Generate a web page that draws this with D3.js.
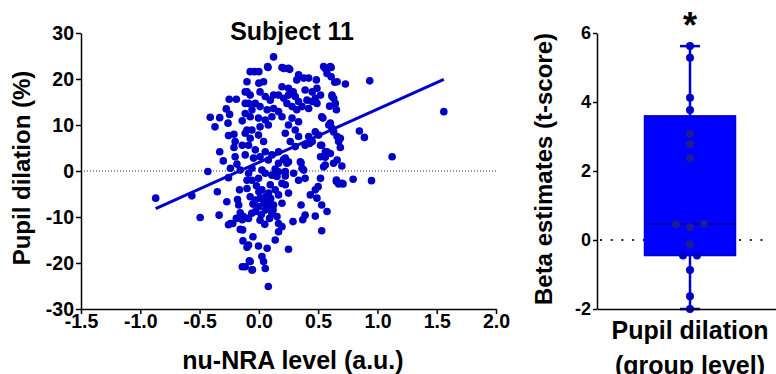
<!DOCTYPE html>
<html>
<head>
<meta charset="utf-8">
<script src="https://cdn.jsdelivr.net/npm/d3@7"></script>
<style>
  body { margin: 0; background: #fff; }
  svg { display: block; }
  text { font-family: "Liberation Sans", Arial, sans-serif; font-weight: bold; fill: #000; }
</style>
</head>
<body>
<svg id="chart" width="776" height="374"></svg>
<script>
// left panel: subject 11, pupil dilation vs nu-NRA level
const xTicks = [-1.5, -1.0, -0.5, 0, 0.5, 1.0, 1.5, 2.0];
const yTicks = [-30, -20, -10, 0, 10, 20, 30];

// [nu-NRA level, pupil dilation %]
const scatterPoints = [
  [-0.87,-5.9],[-0.565,-5.4],[-0.495,-10.1],[-0.35,-4.5],[-0.335,-9.6],[-0.43,-0.1],
  [-0.41,11.7],[-0.33,11.6],[-0.37,9.6],[-0.33,4.2],[-0.30,2.2],
  [-0.25,15.6],[-0.19,15.6],[-0.275,13.5],[-0.247,12.3],[-0.26,10.4],[-0.14,10.9],[-0.256,7.7],
  [-0.21,8.0],[-0.20,6.4],[-0.21,5.1],[-0.14,5.6],[-0.10,17.2],[-0.115,14.7],[-0.10,8.9],
  [-0.20,3.1],[-0.24,0.6],[-0.185,1.5],[-0.157,0.2],
  [-0.27,-6.7],[-0.256,-1.45],[-0.18,-6.2],[-0.17,-7.4],[-0.163,-4.1],[-0.157,-9.1],[-0.19,-10.3],
  [-0.24,-11.4],[-0.22,-11.4],[-0.256,-11.7],[-0.14,-10.6],[-0.13,-9.9],[-0.157,-12.7],[-0.134,-15.2],
  [-0.10,-16.6],[-0.08,-19.5],[-0.14,-20.8],[-0.053,-21.5],[-0.087,-0.5],[-0.1,-2.0],[-0.137,-12.8],
  [0.124,24.8],[-0.036,21.6],[0.0,21.6],[0.077,22.5],[0.195,22.5],[0.25,22.3],[0.56,22.3],[0.61,22.5],
  [0.64,19.3],[0.575,21.2],[0.61,20.5],[0.335,20.9],[0.378,20.2],[0.42,20.2],[0.485,19.8],[0.32,19.8],
  [-0.1,19.4],[0.0,19.1],[0.04,19.4],
  [0.195,18.3],[0.25,18.0],[0.29,17.2],[0.39,17.6],[0.45,17.2],[0.49,18.0],[0.52,16.5],
  [0.406,15.4],[0.45,15.1],[0.49,14.7],[0.364,14.0],[0.42,13.6],[0.476,15.8],
  [0.307,16.2],[0.335,15.1],[0.28,14.0],[0.32,13.3],
  [0.166,16.5],[0.21,15.8],[0.237,14.7],[0.25,16.5],
  [-0.115,17.2],[-0.073,16.5],[0.01,17.2],[0.054,16.2],[0.096,15.4],[0.124,16.5],
  [-0.087,14.7],[-0.03,14.7],[0.01,14.0],[-0.058,13.3],[0.07,13.3],[0.124,13.6],[0.166,12.9],
  [0.195,11.8],[0.28,11.5],[0.25,10.0],[0.335,10.7],
  [0.53,11.8],[0.59,10.0],[0.617,16.5],[0.631,15.8],
  [-0.115,12.5],[-0.073,11.8],[-0.003,11.5],[0.054,11.1],[0.11,11.8],[0.01,9.6],[0.08,10.0],
  [-0.058,8.9],[-0.115,8.2],[-0.073,7.1],[-0.003,7.8],[0.04,6.4],
  [0.223,8.2],[0.307,8.9],[0.335,7.5],
  [0.504,7.8],[0.603,10.4],[0.45,6.4],[0.53,5.6],
  [0.631,8.5],[0.66,7.5],[0.673,6.4],[0.42,7.5],
  [0.307,5.3],[0.39,5.6],[0.56,4.2],[0.66,2.4],
  [-0.087,5.6],[-0.03,4.6],[0.054,4.2],[0.11,3.5],[0.166,4.2],[0.223,2.8],
  [-0.115,3.5],[-0.045,2.8],[0.01,3.1],[0.08,2.4],[0.166,1.7],[0.25,2.0],
  [0.35,2.0],[0.364,0.6],[0.56,1.3],[0.63,1.7],
  [-0.058,0.6],[0.026,0.2],[0.138,0.4],[0.223,-0.1],
  [0.73,18.9],[0.935,19.6],[1.56,12.9],[0.848,8.7],[0.89,7.3],[1.124,3.1],[0.70,1.1],[0.687,7.1],
  [0.687,5.1],[0.71,-2.8],[0.795,-1.8],[0.95,-2.1],
  [0.66,19.4],[0.645,14.7],[0.617,16.2],[0.597,14.1],[0.654,13.3],[0.546,22.7],[0.603,22.7],
  [0.21,22.3],[0.26,22.1],[-0.073,21.6],[0.074,22.7],
  [0.54,11.5],[0.617,9.3],[0.52,5.6],[0.575,4.2],[0.603,3.8],[0.546,0.9],[0.476,8.5],[0.428,6.0],
  [0.356,1.8],[0.378,0.2],[0.265,6.4],[0.208,2.5],[0.237,1.7],[0.52,3.1],[0.56,3.0],[0.654,-2.3],[0.70,-2.7],
  [0.654,-1.96],[0.673,-2.8],[0.52,-1.6],[0.5,-3.4],[0.476,-4.1],[0.434,-5.2],[0.49,-5.9],[0.53,-7.4],
  [0.575,-8.8],[0.476,-9.8],[0.53,-13.0],[0.356,-7.4],[0.39,-9.6],[0.37,-10.6],[0.288,-11.0],[0.25,-17.0],
  [0.08,-25.1],[0.166,-13.2],[0.195,-12.1],[0.138,-15.0],
  [-0.05,-14.3],[-0.087,-16.1],[-0.003,-16.3],[0.07,-16.8],[0.026,-18.6],[0.04,-19.7],[0.054,-21.2],
  [-0.073,-19.7],[-0.058,-21.5],[-0.115,-20.8],
  [0.293,-0.5],[0.335,-2.0],[0.39,-1.6],[0.223,-1.1],[0.166,-0.15],[0.195,-2.7],[0.25,-4.8],[0.223,-3.0],
  [-0.058,-2.0],[-0.003,-1.6],[0.054,-0.5],[0.11,-0.9],[-0.073,-5.6],[-0.03,-6.3],[0.01,-5.9],[0.04,-7.0],
  [0.082,-6.7],[0.124,-7.4],[-0.003,-7.8],[0.054,-8.5],[0.11,-9.2],[0.153,-9.9],[0.166,-11.4],[-0.03,-8.8],
  [-0.087,-10.3],[0.01,-10.7],[0.082,-4.8],[0.138,-4.1],[0.166,-5.2],[0.195,-7.0],[0.026,-4.1],[0.096,-3.0],
  [0.153,-1.2],[-0.1,-3.8],
  [0.0,-4.5],[0.03,-6.0],[0.06,-5.5],[0.1,-6.0],[0.07,-8.0],[0.02,-9.5],[-0.05,-7.2],[0.12,-8.5],
  [-0.02,-3.2],[0.09,-10.3],[0.05,-11.6],[-0.06,-9.2]
];

// regression line
const fitSlope = 11.57;
const fitIntercept = 1.87;

// right panel: group-level beta estimates
const betaValues = [5.62, 5.28, 4.12, 3.77, 3.08, 2.78, 2.38, 0.455, 0.37, 0.47, -0.13, -0.45, -0.45, -0.87, -1.63, -2.0];
const betaTicks = [-2, 0, 2, 4, 6];

const blue = "#0000c8";
const svg = d3.select("#chart");

// ---------- left panel ----------
const x = d3.scaleLinear().domain([-1.5, 2]).range([81, 496]);
const y = d3.scaleLinear().domain([-30, 30]).range([309, 33]);

svg.append("line")
  .attr("x1", x(-1.5)).attr("x2", x(2))
  .attr("y1", y(0)).attr("y2", y(0))
  .attr("stroke", "#333").attr("stroke-width", 1)
  .attr("stroke-dasharray", "1,2");

svg.append("g").selectAll("circle")
  .data(scatterPoints)
  .join("circle")
  .attr("cx", d => x(d[0]))
  .attr("cy", d => y(d[1]))
  .attr("r", 3.8)
  .attr("fill", blue);

const xe = d3.extent(scatterPoints, d => d[0]);
svg.append("line")
  .attr("x1", x(xe[0])).attr("y1", y(fitIntercept + fitSlope * xe[0]))
  .attr("x2", x(xe[1])).attr("y2", y(fitIntercept + fitSlope * xe[1]))
  .attr("stroke", blue).attr("stroke-width", 3);

function styleAxis(g, size) {
  g.select(".domain").attr("stroke", "#000").attr("stroke-width", 1.5);
  g.selectAll(".tick line").attr("stroke", "#000").attr("stroke-width", 1.5);
  g.selectAll(".tick text").attr("font-size", size).attr("fill", "#000")
    .style("font-family", '"Liberation Sans", Arial, sans-serif').style("font-weight", "bold");
}

const gx = svg.append("g")
  .attr("transform", `translate(0,${y(-30)})`)
  .call(d3.axisBottom(x).tickValues(xTicks).tickFormat(d => d.toFixed(1))
    .tickSize(5).tickPadding(0).tickSizeOuter(0));
styleAxis(gx, 19.5);

const gy = svg.append("g")
  .attr("transform", `translate(${x(-1.5)},0)`)
  .call(d3.axisLeft(y).tickValues(yTicks).tickFormat(d => String(d))
    .tickSize(5).tickPadding(2).tickSizeOuter(0));
styleAxis(gy, 19.5);

svg.append("text").attr("x", 292).attr("y", 40)
  .attr("text-anchor", "middle").attr("font-size", 25).text("Subject 11");
svg.append("text").attr("x", 293).attr("y", 369)
  .attr("text-anchor", "middle").attr("font-size", 25).text("nu-NRA level (a.u.)");
svg.append("text").attr("transform", "translate(30,168) rotate(-90)")
  .attr("text-anchor", "middle").attr("font-size", 24).text("Pupil dilation (%)");

// ---------- right panel ----------
const yb = d3.scaleLinear().domain([-2, 6]).range([309, 33]);
const cx = 690, boxHalf = 45.5, capHalf = 10, pr = 4;

// quartiles with the (n+1)p rule
const sorted = betaValues.slice().sort((a, b) => a - b);
function pct(p) {
  const h = (sorted.length + 1) * p - 1;
  const lo = Math.max(0, Math.floor(h)), hi = Math.min(sorted.length - 1, lo + 1);
  return sorted[lo] + (h - lo) * (sorted[hi] - sorted[lo]);
}
const q1 = pct(0.25), med = pct(0.5), q3 = pct(0.75);
const vMin = sorted[0], vMax = sorted[sorted.length - 1];

svg.append("line")
  .attr("x1", 600).attr("x2", 770)
  .attr("y1", yb(0)).attr("y2", yb(0))
  .attr("stroke", "#222").attr("stroke-width", 2)
  .attr("stroke-dasharray", "2,8.7");

svg.append("line").attr("x1", cx).attr("x2", cx)
  .attr("y1", yb(vMin)).attr("y2", yb(vMax))
  .attr("stroke", blue).attr("stroke-width", 2.5);
[vMin, vMax].forEach(v => {
  svg.append("line").attr("x1", cx - capHalf).attr("x2", cx + capHalf)
    .attr("y1", yb(v)).attr("y2", yb(v))
    .attr("stroke", blue).attr("stroke-width", 2.5);
});

svg.append("rect")
  .attr("x", cx - boxHalf).attr("width", boxHalf * 2)
  .attr("y", yb(q3)).attr("height", yb(q1) - yb(q3))
  .attr("fill", "#0000ff").attr("stroke", "#0000cc").attr("stroke-width", 1.5);
svg.append("line").attr("x1", cx - boxHalf).attr("x2", cx + boxHalf)
  .attr("y1", yb(med)).attr("y2", yb(med))
  .attr("stroke", "#00009a").attr("stroke-width", 1.5);

// spread points that sit on the same row
const rows = [];
betaValues.forEach(v => {
  const row = rows.find(r => Math.abs(yb(r[0]) - yb(v)) < 2 * pr + 1);
  if (row) row.push(v); else rows.push([v]);
});
const placed = [];
rows.forEach(r => r.forEach((v, i) => placed.push({ v, dx: (i - (r.length - 1) / 2) * 14 })));

svg.append("g").selectAll("circle")
  .data(placed)
  .join("circle")
  .attr("cx", d => cx + d.dx)
  .attr("cy", d => yb(d.v))
  .attr("r", pr)
  .attr("fill", d => (d.v > q1 && d.v < q3) ? "#1c1c96" : blue);

const gyb = svg.append("g")
  .attr("transform", "translate(597,0)")
  .call(d3.axisLeft(yb).tickValues(betaTicks).tickFormat(d => String(d))
    .tickSize(4).tickPadding(2).tickSizeOuter(0));
styleAxis(gyb, 18);

const gxb = svg.append("g")
  .attr("transform", `translate(0,${yb(-2)})`)
  .call(d3.axisBottom(d3.scaleLinear().range([597, 776])).tickValues([]).tickSizeOuter(0));
styleAxis(gxb, 18);

svg.append("text").attr("x", cx).attr("y", 38)
  .attr("text-anchor", "middle").attr("font-size", 36).text("*");
svg.append("text").attr("x", cx).attr("y", 339)
  .attr("text-anchor", "middle").attr("font-size", 25).text("Pupil dilation");
svg.append("text").attr("x", cx).attr("y", 374)
  .attr("text-anchor", "middle").attr("font-size", 25).text("(group level)");
svg.append("text").attr("transform", "translate(552,169) rotate(-90)")
  .attr("text-anchor", "middle").attr("font-size", 24).text("Beta estimates (t-score)");
</script>
</body>
</html>
